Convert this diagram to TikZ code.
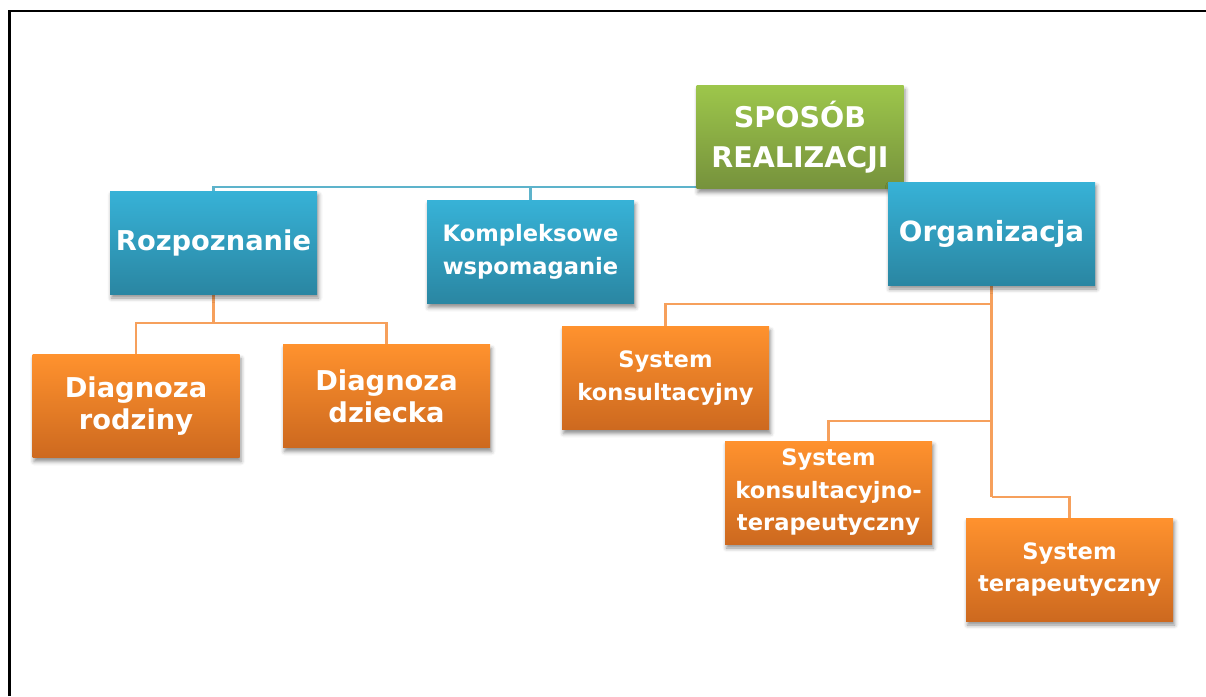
\documentclass[tikz,border=0pt]{standalone}
\usepackage{fontspec}
\setmainfont{DejaVu Sans}
\usetikzlibrary{shadows.blur}
\pgfdeclarelayer{background}
\pgfsetlayers{background,main}
\definecolor{gtop}{HTML}{9DC64B}
\definecolor{gbot}{HTML}{76923C}
\definecolor{btop}{HTML}{37B2D7}
\definecolor{bbot}{HTML}{2A86A2}
\definecolor{otop}{HTML}{FF922E}
\definecolor{obot}{HTML}{CD691F}
\definecolor{bline}{HTML}{5DB3CB}
\definecolor{oline}{HTML}{F6A05C}
\tikzset{
  box/.style={minimum width=207pt, minimum height=103pt, inner sep=0pt,
    align=center, text=white, font=\bfseries,
    blur shadow={shadow xshift=1.5pt, shadow yshift=-4pt, shadow blur radius=4pt, shadow opacity=45}},
  greenbox/.style={box, top color=gtop, bottom color=gbot},
  bluebox/.style={box, top color=btop, bottom color=bbot},
  orangebox/.style={box, top color=otop, bottom color=obot},
  bigtxt/.style={font=\bfseries\fontsize{27.3}{32}\selectfont},
  midtxt/.style={font=\bfseries\fontsize{22.6}{32.5}\selectfont},
  rtxt/.style={font=\bfseries\fontsize{28.5}{40}\selectfont},
  blink/.style={draw=bline, line width=2.6pt},
  olink/.style={draw=oline, line width=2.6pt},
}
\begin{document}
\begin{tikzpicture}[x=1pt, y=-1pt]
\useasboundingbox (0,0) rectangle (1206,696);
\draw[line width=2.5pt] (9.5,696) -- (9.5,11) -- (1206,11);

\node[greenbox, rtxt] (root) at (800,137) {SPOSÓB\\REALIZACJI};
\node[bluebox, bigtxt] (rozp) at (213.5,242.5) {Rozpoznanie};
\node[bluebox, midtxt] (komp) at (530.5,252) {Kompleksowe\\wspomaganie};
\node[bluebox, font=\bfseries\fontsize{27.8}{32}\selectfont] (org) at (991.5,233.5) {Organizacja};
\node[orangebox, bigtxt] (drodz) at (136,406) {Diagnoza\\rodziny};
\node[orangebox, bigtxt] (ddz) at (386.5,396) {Diagnoza\\dziecka};
\node[orangebox, midtxt] (skons) at (665.5,378) {System\\konsultacyjny};
\node[orangebox, midtxt] (skt) at (828.5,492.5) {System\\konsultacyjno-\\terapeutyczny};
\node[orangebox, midtxt] (ster) at (1069.5,569.5) {System\\terapeutyczny};

\coordinate (bus) at (0,187);
\coordinate (rj) at (0,323);
\coordinate (b1) at (0,304);
\coordinate (b2) at (0,421);
\coordinate (b3) at (0,497);

\begin{pgfonlayer}{background}
\draw[blink] (rozp.north) |- (bus -| org.north) -- (org.north);
\draw[blink] (komp.north) -- (komp.north |- bus);
\draw[blink] (root.south) -- (root.south |- bus);
\draw[olink] (rozp.south) -- (rozp.south |- rj);
\draw[olink] (drodz.north) |- (rj -| ddz.north) -- (ddz.north);
\draw[olink] (org.south) -- (org.south |- b3);
\draw[olink] (skons.north) |- (org.south |- b1);
\draw[olink] (skt.north) |- (org.south |- b2);
\draw[olink] (org.south |- b3) -| (ster.north);
\end{pgfonlayer}
\end{tikzpicture}
\end{document}
